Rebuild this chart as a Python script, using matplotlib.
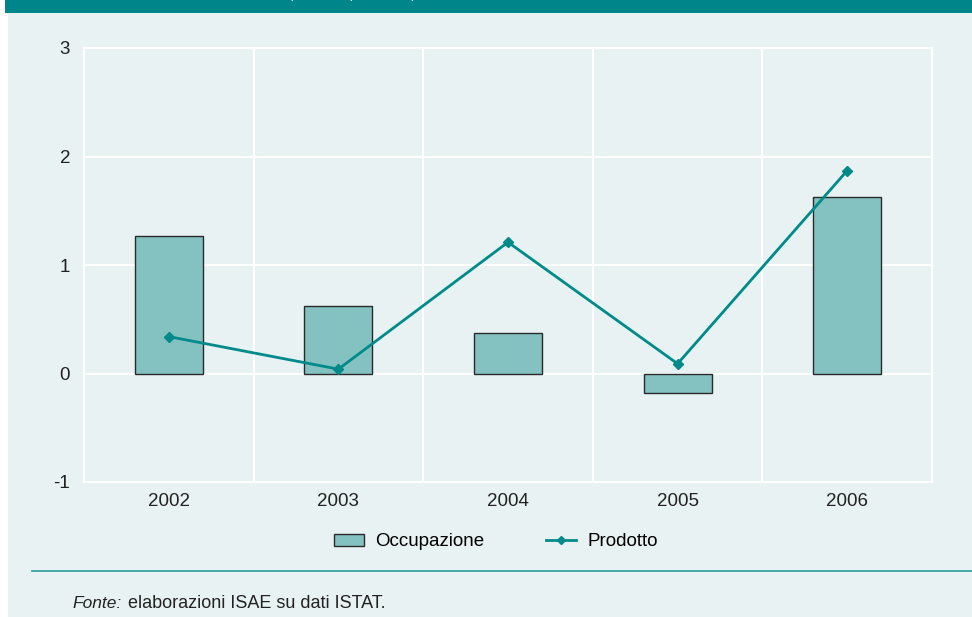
import numpy as np
import matplotlib.pyplot as plt
from matplotlib.patches import Rectangle
from matplotlib.lines import Line2D

plt.rcParams['font.family'] = ['Liberation Sans', 'DejaVu Sans']

# Data
anni = ['2002', '2003', '2004', '2005', '2006']
occupazione = [1.27, 0.62, 0.37, -0.18, 1.63]
prodotto = [0.34, 0.04, 1.21, 0.09, 1.87]

teal = '#008a8a'
bar_fill = '#84c1c1'
bg = '#e8f2f3'

fig = plt.figure(figsize=(9.72, 6.17), dpi=100)
fig.patch.set_facecolor('white')

# background panel and top band
fig.patches.append(Rectangle((8 / 972, 0), 1, 1, transform=fig.transFigure,
                             facecolor=bg, edgecolor='none', zorder=-10))
fig.patches.append(Rectangle((5 / 972, 1 - 13 / 617), 1, 13 / 617, transform=fig.transFigure,
                             facecolor='#00868a', edgecolor='none', zorder=-5))
# title is cut off by the top edge in the reference, only the bottom shows
fig.text(352 / 972, 1 + 2 / 617, '(variazioni percentuali)', color='white',
         fontsize=9, ha='center', va='baseline')

ax = fig.add_axes([84 / 972, 1 - 482 / 617, (932 - 84) / 972, (482 - 48) / 617])
ax.set_facecolor(bg)

x = np.arange(len(anni))
ax.bar(x, occupazione, width=0.4, color=bar_fill, edgecolor='#2a2a2a', linewidth=1.0, zorder=3)
ax.plot(x, prodotto, color=teal, linewidth=2.0, marker='D', markersize=5, zorder=4)

ax.set_xlim(-0.5, 4.5)
ax.set_ylim(-1, 3)
ax.set_yticks([-1, 0, 1, 2, 3])
ax.set_yticklabels(['-1', '0', '1', '2', '3'])
ax.set_xticks(x)
ax.set_xticklabels(anni)
ax.set_xticks(np.arange(-0.5, 4.6, 1), minor=True)

ax.grid(True, axis='y', which='major', color='white', linewidth=1.5, zorder=0)
ax.grid(True, axis='x', which='minor', color='white', linewidth=1.5, zorder=0)
ax.tick_params(axis='both', which='both', length=0, labelsize=13.5, colors='#222222')
ax.tick_params(axis='x', pad=8)
ax.tick_params(axis='y', pad=10)
for s in ax.spines.values():
    s.set_color('white')
    s.set_linewidth(1.5)

handles = [Rectangle((0, 0), 1, 1, facecolor=bar_fill, edgecolor='#2a2a2a', linewidth=1.0),
           Line2D([], [], color=teal, linewidth=2.0, marker='D', markersize=4)]
fig.legend(handles, ['Occupazione', 'Prodotto'], loc='center', ncol=2,
           bbox_to_anchor=(496 / 972, 1 - 542 / 617), frameon=False,
           fontsize=13.5, handlelength=1.6, handleheight=0.6, columnspacing=3.3,
           handletextpad=0.6)

fig.add_artist(Line2D([32 / 972, 1], [1 - 571 / 617, 1 - 571 / 617], transform=fig.transFigure,
                      color='#2a9a9a', linewidth=1.2))

fig.text(72 / 972, 1 - 604 / 617, 'Fonte:', fontsize=12.5, style='italic', color='#222222', va='center')
fig.text(128 / 972, 1 - 604 / 617, 'elaborazioni ISAE su dati ISTAT.', fontsize=13,
         color='#222222', va='center')

fig.savefig('out.png', dpi=100, facecolor=fig.get_facecolor())
